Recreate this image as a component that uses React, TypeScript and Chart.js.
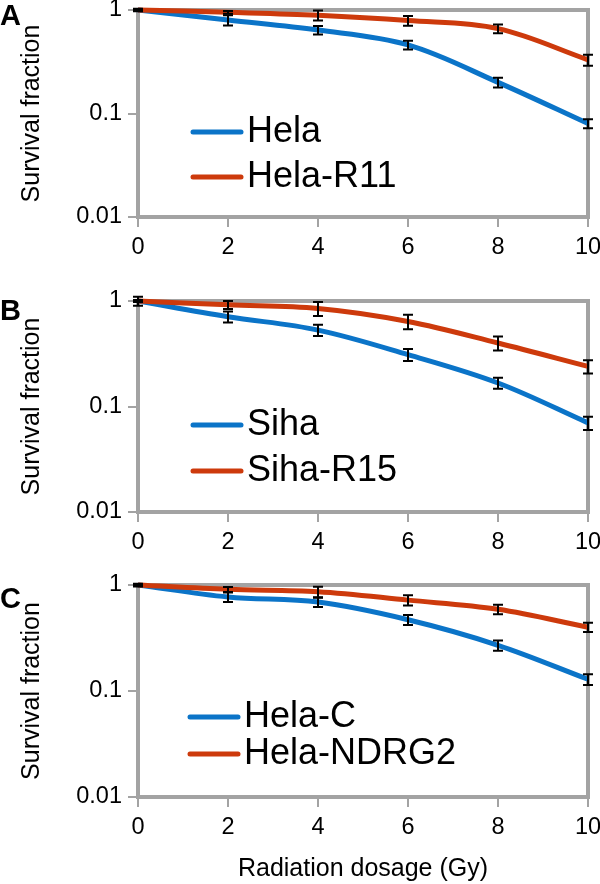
import React, { useEffect, useRef } from 'react';
import { Chart, registerables } from 'chart.js';

Chart.register(...registerables);

const FONT = '"Liberation Sans", Arial, Helvetica, sans-serif';

// ---------- data ----------
const doses = [0, 2, 4, 6, 8, 10];
const xTickValues = [0, 2, 4, 6, 8, 10];
const yTickValues = [0.01, 0.1, 1];
const yTickLabels = ['0.01', '0.1', '1'];
const yAxisTitle = 'Survival fraction';
const xAxisTitle = 'Radiation dosage (Gy)';
const panelLetters = ['A', 'B', 'C'];

// Panel A
const namesA = ['Hela', 'Hela-R11'];
const helaA = [1.0, 0.8, 0.64, 0.46, 0.2, 0.08];
const helaAErr = [0.03, 0.09, 0.06, 0.045, 0.022, 0.008];
const helaR11 = [1.0, 0.95, 0.89, 0.79, 0.66, 0.33];
const helaR11Err = [0.02, 0.03, 0.1, 0.085, 0.065, 0.04];

// Panel B
const namesB = ['Siha', 'Siha-R15'];
const siha = [1.0, 0.71, 0.53, 0.31, 0.167, 0.07];
const sihaErr = [0.1, 0.085, 0.065, 0.04, 0.02, 0.01];
const sihaR15 = [1.0, 0.92, 0.85, 0.64, 0.4, 0.24];
const sihaR15Err = [0.02, 0.08, 0.13, 0.1, 0.06, 0.035];

// Panel C
const namesC = ['Hela-C', 'Hela-NDRG2'];
const helaC = [1.0, 0.77, 0.69, 0.47, 0.27, 0.129];
const helaCErr = [0.03, 0.08, 0.07, 0.05, 0.03, 0.015];
const helaNDRG2 = [1.0, 0.91, 0.865, 0.72, 0.59, 0.4];
const helaNDRG2Err = [0.02, 0.05, 0.1, 0.08, 0.06, 0.04];

// ---------- styles ----------
const BLUE = '#0B74C8';
const RED = '#CD3A0C';
const GRAY = '#A3A3A3';

type PanelLayout = {
  canvasTop: number;
  canvasHeight: number;
  areaTop: number;
  areaBottom: number;
  legendX: number;
  legendY: number;
  legendGap: number;
  legendFont: number;
  letterBaseline: number;
  showXTitle: boolean;
};

const layouts: PanelLayout[] = [
  { canvasTop: -12, canvasHeight: 297, areaTop: 10, areaBottom: 217, legendX: 55, legendY: 122, legendGap: 45, legendFont: 36, letterBaseline: 25, showXTitle: false },
  { canvasTop: 280, canvasHeight: 295, areaTop: 301, areaBottom: 512, legendX: 55, legendY: 124, legendGap: 46, legendFont: 36, letterBaseline: 320, showXTitle: false },
  { canvasTop: 563, canvasHeight: 321, areaTop: 585, areaBottom: 797, legendX: 52, legendY: 132, legendGap: 37, legendFont: 36, letterBaseline: 608, showXTitle: true },
];

const panelData = [
  { names: namesA, blue: helaA, blueErr: helaAErr, red: helaR11, redErr: helaR11Err },
  { names: namesB, blue: siha, blueErr: sihaErr, red: sihaR15, redErr: sihaR15Err },
  { names: namesC, blue: helaC, blueErr: helaCErr, red: helaNDRG2, redErr: helaNDRG2Err },
];

const AREA_LEFT = 138;
const AREA_RIGHT = 588;
const CANVAS_WIDTH = 620;

function makeConfig(idx: number): any {
  const L = layouts[idx];
  const D = panelData[idx];
  const errs = [D.blueErr, D.redErr];
  const xHeight = L.canvasHeight - (L.areaBottom - L.canvasTop);

  const borderPlugin = {
    id: 'plotBorder' + idx,
    beforeDatasetsDraw(chart: any) {
      const { ctx, chartArea } = chart;
      ctx.save();
      ctx.strokeStyle = GRAY;
      ctx.lineWidth = 4;
      ctx.strokeRect(chartArea.left, chartArea.top, chartArea.right - chartArea.left, chartArea.bottom - chartArea.top);
      ctx.restore();
    },
  };

  const errorBarPlugin = {
    id: 'errorBars' + idx,
    afterDatasetsDraw(chart: any) {
      const { ctx } = chart;
      const yScale = chart.scales.y;
      ctx.save();
      ctx.strokeStyle = '#000';
      ctx.lineWidth = 2;
      chart.data.datasets.forEach((ds: any, di: number) => {
        const meta = chart.getDatasetMeta(di);
        ds.data.forEach((p: any, j: number) => {
          const e = errs[di][j];
          const x = meta.data[j].x;
          const yHi = yScale.getPixelForValue(p.y + e);
          const yLo = yScale.getPixelForValue(Math.max(p.y - e, 0.0001));
          ctx.beginPath();
          ctx.moveTo(x, yHi);
          ctx.lineTo(x, yLo);
          ctx.moveTo(x - 5, yHi);
          ctx.lineTo(x + 5, yHi);
          ctx.moveTo(x - 5, yLo);
          ctx.lineTo(x + 5, yLo);
          ctx.stroke();
        });
      });
      ctx.restore();
    },
  };

  const legendPlugin = {
    id: 'panelLegend' + idx,
    afterDraw(chart: any) {
      const { ctx, chartArea } = chart;
      const colors = [BLUE, RED];
      ctx.save();
      D.names.forEach((name: string, i: number) => {
        const y = chartArea.top + L.legendY + i * L.legendGap;
        const x0 = chartArea.left + L.legendX;
        ctx.strokeStyle = colors[i];
        ctx.lineWidth = 5;
        ctx.lineCap = 'round';
        ctx.beginPath();
        ctx.moveTo(x0, y);
        ctx.lineTo(x0 + 48, y);
        ctx.stroke();
        ctx.fillStyle = '#000';
        ctx.font = `${L.legendFont}px ${FONT}`;
        ctx.textBaseline = 'middle';
        ctx.textAlign = 'left';
        ctx.fillText(name, x0 + 54, y);
      });
      // panel letter
      ctx.font = `bold 29px ${FONT}`;
      ctx.textBaseline = 'alphabetic';
      ctx.fillText(panelLetters[idx], 0, L.letterBaseline - L.canvasTop);
      ctx.restore();
    },
  };

  return {
    type: 'line',
    data: {
      datasets: [
        {
          label: D.names[0],
          data: doses.map((d, i) => ({ x: d, y: D.blue[i] })),
          borderColor: BLUE,
          borderWidth: 5,
          pointRadius: 0,
          tension: 0.35,
          clip: false,
          order: 1,
        },
        {
          label: D.names[1],
          data: doses.map((d, i) => ({ x: d, y: D.red[i] })),
          borderColor: RED,
          borderWidth: 5,
          pointRadius: 0,
          tension: 0.35,
          clip: false,
          order: 0,
        },
      ],
    },
    options: {
      responsive: false,
      animation: false,
      events: [],
      layout: { padding: { top: L.areaTop - L.canvasTop, right: CANVAS_WIDTH - AREA_RIGHT, left: 0, bottom: 0 } },
      plugins: { legend: { display: false }, tooltip: { enabled: false } },
      scales: {
        x: {
          type: 'linear',
          min: 0,
          max: 10,
          afterBuildTicks: (s: any) => {
            s.ticks = xTickValues.map((v) => ({ value: v }));
          },
          afterFit: (s: any) => {
            s.height = xHeight;
          },
          border: { display: false },
          grid: { drawOnChartArea: false, drawTicks: true, tickLength: 10, color: GRAY, lineWidth: 2 },
          ticks: {
            color: '#000',
            padding: 6,
            maxRotation: 0,
            autoSkip: false,
            font: { size: 23.5, family: FONT },
            callback: (v: any) => String(v),
          },
          title: {
            display: L.showXTitle,
            text: xAxisTitle,
            color: '#000',
            font: { size: 25, family: FONT },
            padding: { top: 0, bottom: 0 },
          },
        },
        y: {
          type: 'logarithmic',
          min: 0.01,
          max: 1,
          afterBuildTicks: (s: any) => {
            s.ticks = yTickValues.map((v) => ({ value: v }));
          },
          afterFit: (s: any) => {
            s.width = AREA_LEFT;
          },
          border: { display: false },
          grid: { drawOnChartArea: false, drawTicks: true, tickLength: 10, color: GRAY, lineWidth: 2 },
          ticks: {
            color: '#000',
            padding: 6,
            autoSkip: false,
            font: { size: 23.5, family: FONT },
            callback: (v: any) => {
              const k = yTickValues.indexOf(Number(v));
              return k >= 0 ? yTickLabels[k] : '';
            },
          },
          title: {
            display: true,
            text: yAxisTitle,
            color: '#000',
            font: { size: 25, family: FONT },
            padding: { top: 17, bottom: 0 },
          },
        },
      },
    },
    plugins: [borderPlugin, errorBarPlugin, legendPlugin],
  };
}

function Panel({ idx }: { idx: number }) {
  const ref = useRef<HTMLCanvasElement | null>(null);
  const L = layouts[idx];
  useEffect(() => {
    if (!ref.current) return;
    const chart = new Chart(ref.current, makeConfig(idx));
    return () => chart.destroy();
  }, [idx]);
  return (
    <canvas
      ref={ref}
      width={CANVAS_WIDTH}
      height={L.canvasHeight}
      style={{ position: 'absolute', left: 0, top: L.canvasTop, width: CANVAS_WIDTH, height: L.canvasHeight, display: 'block' }}
    />
  );
}

export default function App() {
  Chart.defaults.font.family = FONT;
  return (
    <div style={{ position: 'absolute', left: 0, top: 0, width: 600, height: 884, background: '#fff', overflow: 'hidden' }}>
      {layouts.map((_, i) => (
        <Panel key={i} idx={i} />
      ))}
    </div>
  );
}
